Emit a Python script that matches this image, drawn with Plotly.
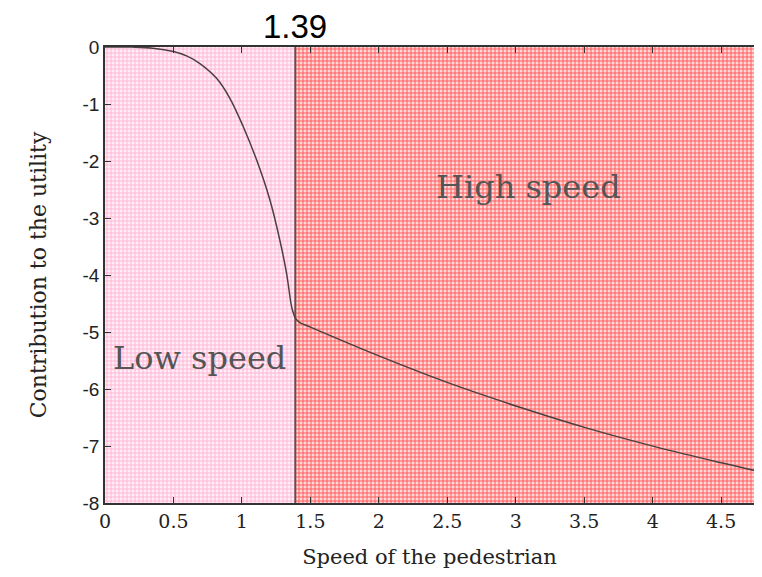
import plotly.graph_objects as go

# Data
threshold = 1.39
x_max = 4.8
y_min, y_max = -8, 0

low_x = [0.0, 0.2, 0.35, 0.5, 0.6, 0.693, 0.815, 0.912, 1.01, 1.107, 1.204, 1.277, 1.326, 1.363, 1.38, 1.39]
low_y = [0.0, -0.002, -0.02, -0.08, -0.16, -0.29, -0.55, -0.90, -1.40, -1.98, -2.68, -3.39, -3.97, -4.56, -4.70, -4.76]
high_x = [1.39, 1.42, 1.496, 1.96, 2.494, 3.03, 3.54, 4.03, 4.51, 4.8]
high_y = [-4.76, -4.83, -4.91, -5.38, -5.88, -6.32, -6.70, -7.02, -7.30, -7.46]

xticks = [0, 0.5, 1, 1.5, 2, 2.5, 3, 3.5, 4, 4.5]
xtick_text = ["0", "0.5", "1", "1.5", "2", "2.5", "3", "3.5", "4", "4.5"]
yticks = [0, -1, -2, -3, -4, -5, -6, -7, -8]
ytick_text = ["0", "-1", "-2", "-3", "-4", "-5", "-6", "-7", "-8"]

serif = "DejaVu Serif"
sans = "Liberation Sans"

x_view = 4.74  # visible part of the x axis

fig = go.Figure()

# Low speed region (pink hatched)
fig.add_trace(go.Scatter(
    x=[0, threshold, threshold, 0, 0],
    y=[y_min, y_min, y_max, y_max, y_min],
    mode="lines", line=dict(width=0), fill="toself",
    fillcolor="#ffe3ef",
    fillpattern=dict(shape="+", size=4, solidity=0.35, fgcolor="#ffa8d0", bgcolor="#ffeef6", fillmode="replace"),
    hoverinfo="skip", showlegend=False))

# High speed region (red hatched)
fig.add_trace(go.Scatter(
    x=[threshold, x_max, x_max, threshold, threshold],
    y=[y_min, y_min, y_max, y_max, y_min],
    mode="lines", line=dict(width=0), fill="toself",
    fillcolor="#ff9a9a",
    fillpattern=dict(shape="+", size=4, solidity=0.4, fgcolor="#ff5050", bgcolor="#ffd8d8", fillmode="replace"),
    hoverinfo="skip", showlegend=False))

# Threshold line
fig.add_trace(go.Scatter(
    x=[threshold, threshold], y=[y_min, y_max], mode="lines",
    line=dict(color="#6a4a4a", width=2), hoverinfo="skip", showlegend=False))

# Curve (low and high speed parts)
fig.add_trace(go.Scatter(
    x=low_x, y=low_y, mode="lines",
    line=dict(color="#4a4040", width=1.5, shape="spline", smoothing=1.0),
    showlegend=False))
fig.add_trace(go.Scatter(
    x=high_x, y=high_y, mode="lines",
    line=dict(color="#4a4040", width=1.5, shape="spline", smoothing=1.0),
    showlegend=False))

fig.add_annotation(x=threshold, y=1.0, yref="paper", yshift=0, text="1.39", showarrow=False,
                   yanchor="bottom", font=dict(family=sans, size=33, color="black"))
fig.add_annotation(x=3.09, y=-2.46, text="High speed", showarrow=False,
                   font=dict(family=serif, size=32, color="#555555"))
fig.add_annotation(x=0.69, y=-5.46, text="Low speed", showarrow=False,
                   font=dict(family=serif, size=32, color="#555555"))

fig.update_layout(
    width=746, height=561,
    margin=dict(l=97, r=0, t=39, b=66),
    paper_bgcolor="white", plot_bgcolor="white",
    xaxis=dict(range=[0, x_view], tickvals=xticks, ticktext=xtick_text, automargin=False,
               ticks="inside", ticklen=6, tickcolor="#333", showgrid=False, zeroline=False,
               showline=True, linecolor="#333", linewidth=1.5, mirror="ticks",
               tickfont=dict(family=serif, size=19, color="#222"),
               title=dict(text="Speed of the pedestrian", font=dict(family=serif, size=21, color="#222"), standoff=28)),
    yaxis=dict(range=[y_min, y_max], tickvals=yticks, ticktext=ytick_text, automargin=False,
               ticks="inside", ticklen=6, tickcolor="#333", showgrid=False, zeroline=False,
               showline=True, linecolor="#333", linewidth=1.5, mirror=False,
               tickfont=dict(family=sans, size=19, color="#222"),
               title=dict(text="Contribution to the utility", font=dict(family=serif, size=22, color="#222"), standoff=30)),
)

fig.write_html("out.html")
